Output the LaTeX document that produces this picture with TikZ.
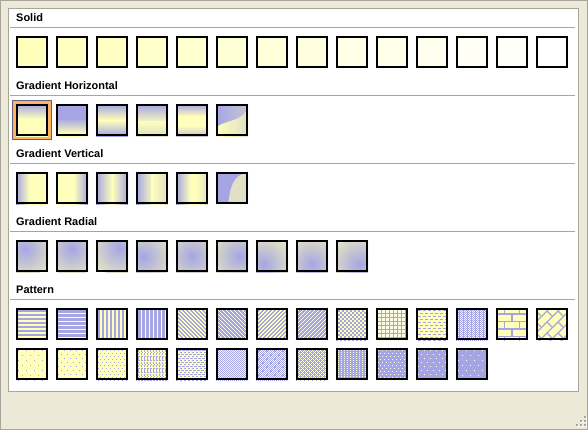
\documentclass[tikz,border=0pt]{standalone}
\usepackage{fontspec}
\setmainfont{Liberation Sans}
\definecolor{yel}{RGB}{255,255,187}
\definecolor{blu}{RGB}{165,165,228}
\definecolor{tanc}{RGB}{224,224,196}
\definecolor{winbg}{RGB}{236,233,216}
\definecolor{sepc}{RGB}{167,166,158}
\definecolor{orng}{RGB}{255,178,96}
\definecolor{selbd}{RGB}{96,96,128}
\colorlet{lyel}{yel!35!white}
\colorlet{yelgr}{yel!82!blu}
\colorlet{blutan}{blu!45!tanc}
\colorlet{blulight}{blu!45!tanc}
% TikZ maps the path box to 25bp..75bp of the shading
% vertical shadings: colour changes vertically (0bp = bottom)
\pgfdeclareverticalshading{gha}{100bp}{color(0bp)=(yel); color(25bp)=(yel); color(52bp)=(yel); color(75bp)=(blu); color(100bp)=(blu)}
\pgfdeclareverticalshading{ghb}{100bp}{color(0bp)=(yel); color(29bp)=(yel); color(52.5bp)=(blu); color(100bp)=(blu)}
\pgfdeclareverticalshading{ghc}{100bp}{color(0bp)=(blu); color(25bp)=(blu); color(50bp)=(yel); color(75bp)=(blu); color(100bp)=(blu)}
\pgfdeclareverticalshading{ghd}{100bp}{color(0bp)=(tanc); color(25bp)=(tanc); color(49.5bp)=(yel); color(49.8bp)=(yelgr); color(75bp)=(blu); color(100bp)=(blu)}
\pgfdeclareverticalshading{ghe}{100bp}{color(0bp)=(blutan); color(25bp)=(blutan); color(41bp)=(yel); color(56bp)=(yel); color(75bp)=(blu); color(100bp)=(blu)}
% horizontal shadings: colour changes horizontally (0bp = left)
\pgfdeclarehorizontalshading{gva}{100bp}{color(0bp)=(blu); color(25bp)=(blu); color(46bp)=(yel); color(100bp)=(yel)}
\pgfdeclarehorizontalshading{gvb}{100bp}{color(0bp)=(yel); color(52.5bp)=(yel); color(75bp)=(blu); color(100bp)=(blu)}
\pgfdeclarehorizontalshading{gvc}{100bp}{color(0bp)=(blu); color(25bp)=(blu); color(50bp)=(yel); color(75bp)=(blu); color(100bp)=(blu)}
\pgfdeclarehorizontalshading{gvd}{100bp}{color(0bp)=(blu); color(25bp)=(blu); color(47.75bp)=(yelgr); color(48bp)=(yel); color(75bp)=(tanc); color(100bp)=(tanc)}
\pgfdeclarehorizontalshading{gve}{100bp}{color(0bp)=(blu); color(25bp)=(blu); color(47.5bp)=(yel); color(56bp)=(yel); color(75bp)=(tanc); color(100bp)=(tanc)}
\pgfdeclarehorizontalshading{hyt}{100bp}{color(0bp)=(yel); color(25bp)=(yel); color(75bp)=(tanc); color(100bp)=(tanc)}
\pgfdeclarehorizontalshading{hbt}{100bp}{color(0bp)=(blu); color(25bp)=(blu); color(75bp)=(blulight); color(100bp)=(blulight)}
\pgfdeclareradialshading{radspot}{\pgfpoint{0bp}{0bp}}{color(0bp)=(blu); color(25bp)=(tanc); color(50bp)=(tanc)}
\tikzset{
  hdr/.style={anchor=base west, inner sep=0pt, font=\bfseries\fontsize{11}{13}\selectfont},
  sepline/.style={draw=sepc, line width=1bp},
  swframe/.style={draw=black, line width=2bp},
}
% swatch: x, y, content drawn in local 0..32 coordinates
\newcommand\sw[3]{%
  \begin{scope}[shift={(#1,#2)}]
    \begin{scope}
      \clip (0,0) rectangle (32,32);
      #3
    \end{scope}
    \draw[swframe] (1,1) rectangle (31,31);
  \end{scope}}
% rows of dashes: colour, period, on length, row step, alternate shift, line width
\newcommand\dgrid[6]{%
  \pgfmathsetmacro\dgoff{#2-#3}%
  \foreach \r in {0,...,32} {
    \pgfmathsetmacro\yy{2+\r*#4+#6/2}
    \pgfmathsetmacro\xx{2-#2+mod(\r,2)*#5}
    \draw[#1, line width=#6bp, dash pattern=on #3bp off \dgoff bp] (\xx,\yy) -- (36,\yy);
  }}
% pixel staircase diagonal stripes: colour, period, on length, direction (+1 = \, -1 = /)
\newcommand\stair[4]{%
  \pgfmathsetmacro\sgoff{#2-#3}%
  \foreach \r in {0,...,31} {
    \pgfmathsetmacro\xx{mod(#4*\r+64*#2,#2)-#2}
    \draw[#1, line width=1bp, dash pattern=on #3bp off \sgoff bp] (\xx,\r+0.5) -- (36,\r+0.5);
  }}
\begin{document}
\begin{tikzpicture}[x=1bp,y=-1bp]
\useasboundingbox (0,0) rectangle (588,430);
\fill[winbg] (0,0) rectangle (588,430);
\draw[sepc, line width=1bp] (0.5,0.5) rectangle (587.5,429.5);
\fill[white] (8,8) rectangle (579,392);
\draw[sepc, line width=1bp] (8.5,8.5) rectangle (578.5,391.5);
% headers and separators
\node[hdr] (hsolid) at (16,21) {Solid};
\node[hdr] (hgh) at (16,89) {Gradient Horizontal};
\node[hdr] (hgv) at (16,157) {Gradient Vertical};
\node[hdr] (hgr) at (16,225) {Gradient Radial};
\node[hdr] (hpat) at (16,293) {Pattern};
\foreach \s in {27.5,95.5,163.5,231.5,299.5} \draw[sepline] (10,\s) -- (575,\s);
% solid row
\foreach \i in {0,...,13} {
  \pgfmathtruncatemacro\p{round(100*(13-\i)/13)}
  \sw{16+40*\i}{36}{\fill[yel!\p!white] (0,0) rectangle (32,32);}
}
% gradient horizontal
\fill[orng] (12,100) rectangle (52,140);
\draw[selbd, line width=1bp] (12.5,100.5) rectangle (51.5,139.5);
\sw{16}{104}{\shade[shading=gha] (0,0) rectangle (32,32);}
\sw{56}{104}{\shade[shading=ghb] (0,0) rectangle (32,32);}
\sw{96}{104}{\shade[shading=ghc] (0,0) rectangle (32,32);}
\sw{136}{104}{\shade[shading=ghd] (0,0) rectangle (32,32);}
\sw{176}{104}{\shade[shading=ghe] (0,0) rectangle (32,32);}
\sw{216}{104}{\shade[shading=hyt] (0,0) rectangle (32,32);
  \shade[shading=hbt] (0,0) -- (0,24.6) .. controls (3,16) and (29,19) .. (32,2) -- (32,0) -- cycle;}
% gradient vertical
\sw{16}{172}{\shade[shading=gva] (0,0) rectangle (32,32);}
\sw{56}{172}{\shade[shading=gvb] (0,0) rectangle (32,32);}
\sw{96}{172}{\shade[shading=gvc] (0,0) rectangle (32,32);}
\sw{136}{172}{\shade[shading=gvd] (0,0) rectangle (32,32);}
\sw{176}{172}{\shade[shading=gve] (0,0) rectangle (32,32);}
\sw{216}{172}{\fill[blu] (0,0) rectangle (32,32);
  \fill[tanc] (12.2,32) .. controls (14,16) and (17,2) .. (32,0.6) -- (32,32) -- cycle;}
% gradient radial
\foreach \cx/\cy [count=\n from 0] in {9/9,16/8.5,23/8,7.5/17,16/16,23/16,7.5/24,16/24,23/24} {
  \sw{16+40*\n}{240}{\fill[tanc] (0,0) rectangle (32,32);
    \shade[shading=radspot] (\cx,\cy) circle (28);}
}
% pattern row 1
\sw{16}{308}{\fill[yel] (0,0) rectangle (32,32);
  \foreach \k in {0,...,8} \fill[blu] (0,2+4*\k) rectangle (32,4+4*\k);}
\sw{56}{308}{\fill[blu] (0,0) rectangle (32,32);
  \foreach \k in {0,...,8} \fill[lyel] (0,5+4*\k) rectangle (32,6+4*\k);}
\sw{96}{308}{\fill[yel] (0,0) rectangle (32,32);
  \foreach \k in {0,...,8} \fill[blu] (2+4*\k,0) rectangle (4+4*\k,32);}
\sw{136}{308}{\fill[blu] (0,0) rectangle (32,32);
  \foreach \k in {0,...,8} \fill[lyel] (5+4*\k,0) rectangle (6+4*\k,32);}
\sw{176}{308}{\fill[yel] (0,0) rectangle (32,32); \stair{blu}{4}{2}{1}}
\sw{216}{308}{\fill[blu] (0,0) rectangle (32,32); \stair{lyel}{4}{1}{1}}
\sw{256}{308}{\fill[yel] (0,0) rectangle (32,32); \stair{blu}{4}{2}{-1}}
\sw{296}{308}{\fill[blu] (0,0) rectangle (32,32); \stair{lyel}{4}{1}{-1}}
\sw{336}{308}{\fill[yel] (0,0) rectangle (32,32); \dgrid{blu}{4}{2}{2}{2}{2}}
\sw{376}{308}{\fill[blu] (0,0) rectangle (32,32); \dgrid{lyel}{4}{3}{4}{0}{3}}
\sw{416}{308}{\fill[yel] (0,0) rectangle (32,32); \dgrid{blu}{5}{3}{3}{2}{1}}
\sw{456}{308}{\fill[yel] (0,0) rectangle (32,32); \dgrid{blu}{2}{1}{1}{1}{1}
  \foreach \k in {0,...,8} \fill[blu] (3+4*\k,0) rectangle (4+4*\k,32);}
\sw{496}{308}{\fill[yel] (0,0) rectangle (32,32);
  \foreach \k in {0,...,4} {
    \draw[blu, line width=1.5bp] (0,6+7.5*\k) -- (32,6+7.5*\k);
    \pgfmathsetmacro\jx{mod(\k,2)==0 ? 8.7 : 1.35}
    \foreach \m in {0,1,2} \draw[blu, line width=1.5bp] (\jx+14.7*\m,-1.5+7.5*\k) -- (\jx+14.7*\m,6+7.5*\k);
  }}
\sw{536}{308}{\fill[yel] (0,0) rectangle (32,32);
  \foreach \k in {-44,-33,...,33} {
    \draw[blu, line width=1.2bp] (\k,36) -- (\k+40,-4);
    \foreach \m in {0,11,22,33} \draw[blu, line width=1.2bp] (\k+\m,36-\m) -- (\k+\m+5,41-\m);
  }}
% pattern row 2
\sw{16}{348}{\fill[yel] (0,0) rectangle (32,32); \dgrid{blu}{8}{1}{5}{4}{1}}
\sw{56}{348}{\fill[yel] (0,0) rectangle (32,32); \dgrid{blu}{6}{1}{4}{3}{1}}
\sw{96}{348}{\fill[yel] (0,0) rectangle (32,32); \dgrid{blu}{4}{1}{3}{2}{1}}
\sw{136}{348}{\fill[yel] (0,0) rectangle (32,32); \dgrid{blu}{3}{1}{2}{1}{1}
  \foreach \k in {0,...,10} \draw[blu, line width=1bp, dash pattern=on 2bp off 1bp] (2.5+3*\k,2) -- (2.5+3*\k,34);}
\sw{176}{348}{\fill[yel] (0,0) rectangle (32,32); \dgrid{blu}{4}{2}{2}{2}{1} \dgrid{blu}{2}{1}{4}{1}{1}}
\sw{216}{348}{\fill[yel] (0,0) rectangle (32,32); \dgrid{blu}{2}{1}{1}{1}{1}}
\sw{256}{348}{\fill[yel] (0,0) rectangle (32,32); \dgrid{blu}{2}{1}{1}{1}{1} \dgrid{blu}{8}{2}{4}{4}{2}}
\sw{296}{348}{\fill[blu] (0,0) rectangle (32,32); \dgrid{yel}{2}{1}{1}{1}{1} \dgrid{blu}{4}{1}{2}{2}{1}}
\sw{336}{348}{\fill[blu] (0,0) rectangle (32,32); \dgrid{lyel}{3}{1}{2}{0}{1}}
\sw{376}{348}{\fill[blu] (0,0) rectangle (32,32); \dgrid{lyel}{4}{1}{3}{2}{1}}
\sw{416}{348}{\fill[blu] (0,0) rectangle (32,32); \dgrid{lyel}{6}{1}{4}{3}{1}}
\sw{456}{348}{\fill[blu] (0,0) rectangle (32,32); \dgrid{lyel}{8}{1}{5}{4}{1}}
% resize grip
\foreach \gx/\gy in {584/416,584/420,580/420,584/424,580/424,576/424} {
  \fill[white] (\gx+1,\gy+1) rectangle +(2,2);
  \fill[sepc] (\gx,\gy) rectangle +(2,2);
}
\end{tikzpicture}
\end{document}
